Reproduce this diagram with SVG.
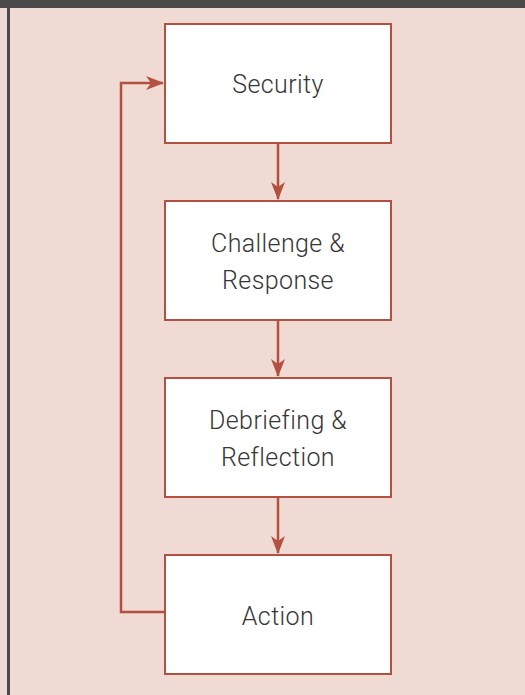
<svg xmlns="http://www.w3.org/2000/svg" width="525" height="695" viewBox="0 0 525 695">
  <style>
    .box { fill: #ffffff; stroke: #B4503F; stroke-width: 2; }
    .edge { fill: none; stroke: #B4503F; stroke-width: 2.5; }
    .label { font-family: Roboto, "Liberation Sans", sans-serif; font-weight: 300; font-size: 25px; letter-spacing: 0.4px; fill: #363636; text-anchor: middle; }
  </style>
  <defs>
    <marker id="arrowL" markerWidth="18" markerHeight="14" refX="17" refY="7" orient="auto" markerUnits="userSpaceOnUse" viewBox="0 0 18 14">
      <path d="M0,0 L18,7 L0,14 L5,7 Z" fill="#B4503F"/>
    </marker>
  </defs>

  <!-- page background and frame -->
  <rect x="0" y="0" width="525" height="695" fill="#EFDAD4"/>
  <rect x="0" y="0" width="525" height="8" fill="#4A4A4A"/>
  <rect x="7" y="0" width="3" height="695" fill="#4A4A4A"/>

  <g id="connectors">
    <path class="edge" d="M278,143 V199" marker-end="url(#arrowL)"/>
    <path class="edge" d="M278,320 V376" marker-end="url(#arrowL)"/>
    <path class="edge" d="M278,497 V553" marker-end="url(#arrowL)"/>
    <path class="edge" d="M165,612 H121 V83 H163" marker-end="url(#arrowL)"/>
  </g>

  <g id="security">
    <rect class="box" x="165" y="24" width="226" height="119"/>
    <text class="label" x="278" y="93">Security</text>
  </g>
  <g id="challenge">
    <rect class="box" x="165" y="201" width="226" height="119"/>
    <text class="label" x="278" y="252">Challenge &amp;</text>
    <text class="label" x="278" y="289">Response</text>
  </g>
  <g id="debriefing">
    <rect class="box" x="165" y="378" width="226" height="119"/>
    <text class="label" x="278" y="429">Debriefing &amp;</text>
    <text class="label" x="278" y="466">Reflection</text>
  </g>
  <g id="action">
    <rect class="box" x="165" y="555" width="226" height="119"/>
    <text class="label" x="278" y="625">Action</text>
  </g>
</svg>
